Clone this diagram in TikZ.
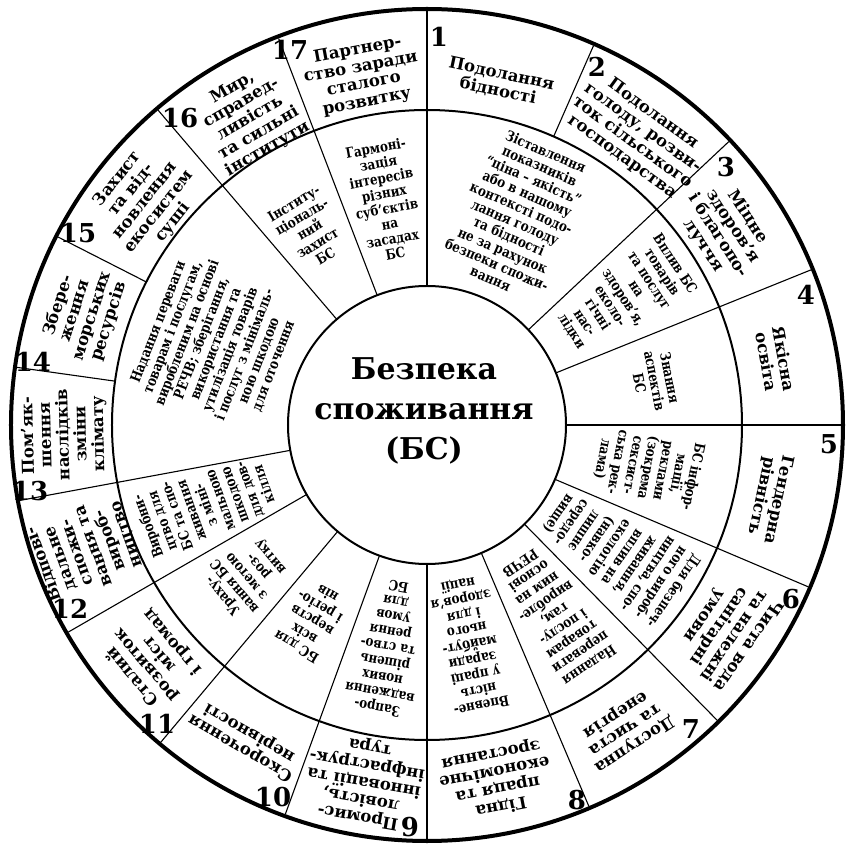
\documentclass[tikz,border=0pt]{standalone}
\usepackage{fontspec}
\setmainfont{DejaVu Serif}
\newfontfamily\narrowserif{DejaVu Serif}[FakeStretch=0.84]
\begin{document}
\begin{tikzpicture}[x=1pt,y=1pt,
  rim/.style={line width=4pt},
  ringline/.style={line width=2pt},
  divider/.style={line width=1.1pt},
  goaltext/.style={font=\bfseries\fontsize{16.5}{17.6}\selectfont, align=center, inner sep=0pt},
  aspecttext/.style={font=\narrowserif\bfseries\fontsize{14.2}{15.4}\selectfont, align=center, inner sep=0pt},
  goalnum/.style={font=\bfseries\fontsize{26}{26}\selectfont, inner sep=0pt},
  hubtext/.style={font=\bfseries\fontsize{30}{40}\selectfont, align=center, inner sep=0pt}
]
\useasboundingbox (-427,-423) rectangle (420,425);
\fill[white] (-427,-423) rectangle (420,425);

% the three rings
\coordinate (O) at (0,0);
\draw[rim] (O) circle[radius=416pt];
\draw[ringline] (O) circle[radius=315pt];
\draw[ringline] (O) circle[radius=139pt];

% dividers running through both rings
\foreach \a in {90,43.2,22,0,-23,-45.5,-67,-90,-110,-130,-150,-169.5,130.5,111}
  \draw[divider] (\a:139pt) -- (\a:414pt);
% dividers of the outer ring only
\foreach \a in {66.3,172,153}
  \draw[divider] (\a:315pt) -- (\a:414pt);

% centre
\node[hubtext] (hub) at (-3,14) {Безпека\\споживання\\(БС)};

% sustainable development goals (outer ring)
\node[goaltext, rotate=-12] (goal1) at (78:350pt) {Подолання\\бідності};
\node[goaltext, rotate=-36] (goal2) at (54:358pt) {Подолання\\голоду, розви-\\ток сільського\\господарства};
\node[goaltext, rotate=-57] (goal3) at (33:356pt) {Міцне\\здоров’я\\і благопо-\\луччя};
\node[goaltext, rotate=-80] (goal4) at (10.5:354pt) {Якісна\\освіта};
\node[goaltext, rotate=-102] (goal5) at (-12:350pt) {Гендерна\\рівність};
\node[goaltext, rotate=-124.5] (goal6) at (-34.5:363pt) {Чиста вода\\та належні\\санітарні\\умови};
\node[goaltext, rotate=-147] (goal7) at (-57:363pt) {Доступна\\та чиста\\енергія};
\node[goaltext, rotate=-169] (goal8) at (-79:362pt) {Гідна\\праця та\\економічне\\зростання};
\node[goaltext, rotate=170] (goal9) at (-100:362pt) {Промис-\\ловість,\\інновації та\\інфраструк-\\тура};
\node[goaltext, rotate=150] (goal10) at (-120:364pt) {Скорочення\\нерівності};
\node[goaltext, rotate=130.5] (goal11) at (-139.5:361pt) {Сталий\\розвиток\\міст\\і громад};
\node[goaltext, rotate=110] (goal12) at (-160:364pt) {Відпові-\\дальне\\спожи-\\вання та\\вироб-\\ництво};
\node[goaltext, rotate=91.5] (goal13) at (-178.5:363pt) {Пом’як-\\шення\\наслідків\\зміни\\клімату};
\node[goaltext, rotate=72] (goal14) at (162:361pt) {Збере-\\ження\\морських\\ресурсів};
\node[goaltext, rotate=51.5] (goal15) at (141.5:360pt) {Захист\\та від-\\новлення\\екосистем\\суші};
\node[goaltext, rotate=30] (goal16) at (120:354pt) {Мир,\\справед-\\ливість\\та сильні\\інститути};
\node[goaltext, rotate=10.5] (goal17) at (100.5:355pt) {Партнер-\\ство заради\\сталого\\розвитку};

% goal numbers
\node[goalnum] (num1) at (12,388) {1};
\node[goalnum] (num2) at (170,358) {2};
\node[goalnum] (num3) at (299,258) {3};
\node[goalnum] (num4) at (379,130) {4};
\node[goalnum] (num5) at (402,-19) {5};
\node[goalnum] (num6) at (364,-174) {6};
\node[goalnum] (num7) at (264,-304) {7};
\node[goalnum] (num8) at (150,-375) {8};
\node[goalnum] (num9) at (-17,-402) {9};
\node[goalnum] (num10) at (-154,-372) {10};
\node[goalnum] (num11) at (-270,-299) {11};
\node[goalnum] (num12) at (-357,-184) {12};
\node[goalnum] (num13) at (-397,-66) {13};
\node[goalnum] (num14) at (-394,63) {14};
\node[goalnum] (num15) at (-349,192) {15};
\node[goalnum] (num16) at (-247,307) {16};
\node[goalnum] (num17) at (-137,375) {17};

% aspects of consumption safety (middle ring)
\node[aspecttext, rotate=-23.5] (asp1) at (66.5:229pt) {Зіставлення\\показників\\“ціна – якість”\\або в нашому\\контексті подо-\\лання голоду\\та бідності\\не за рахунок\\безпеки спожи-\\вання};
\node[aspecttext, rotate=-57] (asp2) at (33:234pt) {Вплив БС\\товарів\\та послуг\\на\\здоров’я,\\еколо-\\гічні\\нас-\\лідки};
\node[aspecttext, rotate=-79] (asp3) at (11:232pt) {Знання\\аспектів\\БС};
\node[aspecttext, rotate=-101] (asp4) at (-11:225pt) {БС інфор-\\мації,\\реклами\\(зокрема\\сексист-\\ська рек-\\лама)};
\node[aspecttext, rotate=-124] (asp5) at (-34:228pt) {Для безпеч-\\ного вироб-\\ництва, спо-\\живання,\\вплив на\\екологію\\(навко-\\лишнє\\середо-\\вище)};
\node[aspecttext, rotate=-146] (asp6) at (-56:229pt) {Надання\\переваги\\товарам\\і послу-\\гам,\\виробле-\\ним на\\основі\\РЕЧВ};
\node[aspecttext, rotate=-169] (asp7) at (-79:224pt) {Впевне-\\ність\\у праці\\заради\\майбут-\\нього\\і для\\здоров’я\\нації};
\node[aspecttext, rotate=170] (asp8) at (-100:226pt) {Запро-\\вадження\\нових\\рішень\\та ство-\\рення\\умов\\для\\БС};
\node[aspecttext, rotate=149.5] (asp9) at (-120.5:227pt) {БС для\\всіх\\верств\\і регіо-\\нів};
\node[aspecttext, rotate=130] (asp10) at (-140:235pt) {Ураху-\\вання БС\\з метою\\роз-\\витку};
\node[aspecttext, rotate=110] (asp11) at (-160:236pt) {Виробни-\\цтво для\\БС та спо-\\живання\\з міні-\\мальною\\шкодою\\для дов-\\кілля};
\node[aspecttext, rotate=69] (asp12) at (159:226pt) {Надання переваги\\товарам і послугам,\\виробленим на основі\\РЕЧВ; зберігання,\\використання та\\утилізація товарів\\і послуг з мінімаль-\\ною шкодою\\для оточення};
\node[aspecttext, rotate=31] (asp13) at (121:228pt) {Інститу-\\ціональ-\\ний\\захист\\БС};
\node[aspecttext, rotate=10.5] (asp14) at (100.5:228pt) {Гармоні-\\зація\\інтересів\\різних\\суб’єктів\\на\\засадах\\БС};
\end{tikzpicture}
\end{document}
